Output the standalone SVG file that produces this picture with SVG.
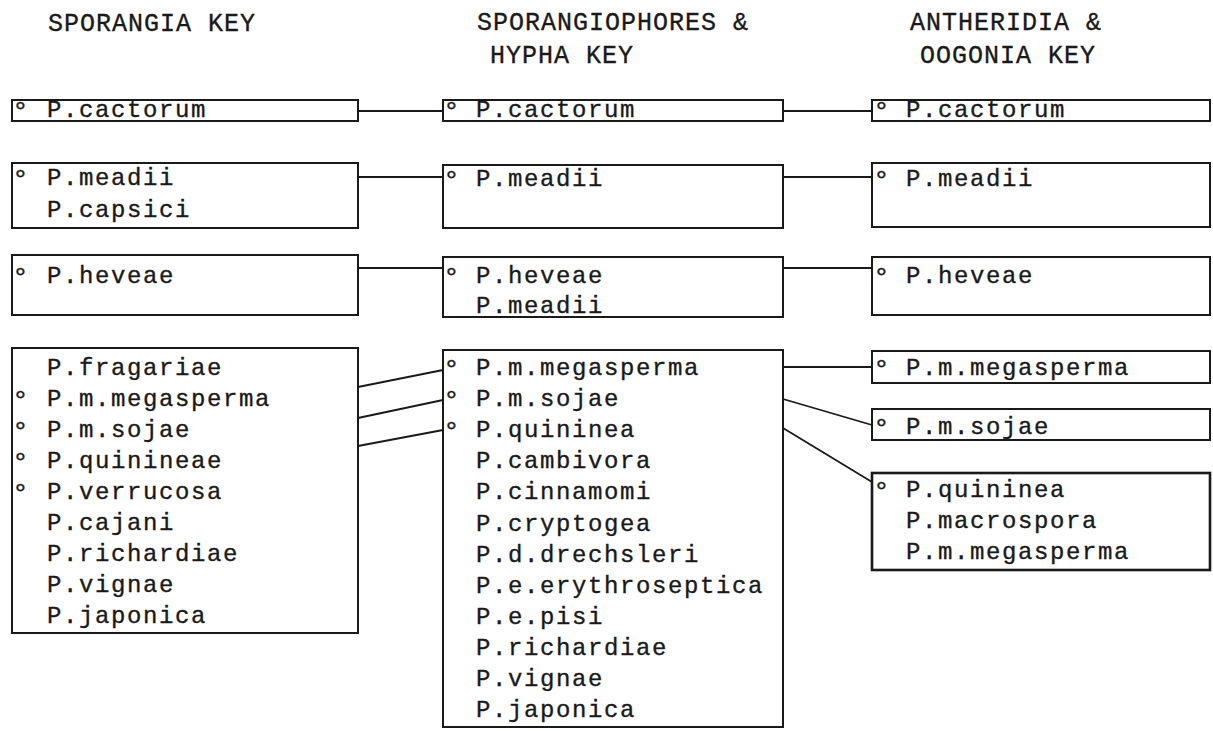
<svg xmlns="http://www.w3.org/2000/svg" width="1213" height="731" viewBox="0 0 1213 731">
<style>
.bg{fill:#fff}
.box{fill:#fff;stroke:#1a1a1a;stroke-width:2}
.thick{stroke-width:2.6}
.t{font-family:"Liberation Mono","DejaVu Sans Mono",monospace;font-size:24px;letter-spacing:1.6px;fill:#1a1a1a;stroke:#1a1a1a;stroke-width:0.35}
.h{font-family:"Liberation Mono","DejaVu Sans Mono",monospace;font-size:25px;letter-spacing:1px;fill:#1a1a1a;stroke:#1a1a1a;stroke-width:0.35}
.d{font-size:28px}
.c{fill:none;stroke:#1a1a1a;stroke-width:1.8}
</style>
<rect class="bg" x="0" y="0" width="1213" height="731"/>
<g id="headers">
<text class="h" x="48" y="31">SPORANGIA KEY</text>
<text class="h" x="477" y="30">SPORANGIOPHORES &amp;</text>
<text class="h" x="490" y="63">HYPHA KEY</text>
<text class="h" x="910" y="30">ANTHERIDIA &amp;</text>
<text class="h" x="920" y="63">OOGONIA KEY</text>
</g>
<g id="connectors">
<line class="c" x1="358" y1="111" x2="443" y2="111"/>
<line class="c" x1="783" y1="111" x2="872" y2="111"/>
<line class="c" x1="358" y1="177" x2="443" y2="177"/>
<line class="c" x1="783" y1="177" x2="872" y2="177"/>
<line class="c" x1="358" y1="268" x2="443" y2="268"/>
<line class="c" x1="783" y1="268" x2="872" y2="268"/>
<line class="c" x1="358" y1="387" x2="443" y2="370"/>
<line class="c" x1="358" y1="418" x2="443" y2="400"/>
<line class="c" x1="358" y1="446" x2="443" y2="430"/>
<line class="c" x1="783" y1="367" x2="872" y2="367"/>
<line class="c" x1="783" y1="399" x2="872" y2="425"/>
<line class="c" x1="783" y1="428" x2="872" y2="482"/>
</g>
<g id="s1">
<rect class="box" x="12" y="100" width="346" height="21"/>
<text class="t" y="117"><tspan class="d" x="12" y="120">°</tspan><tspan x="47" y="117">P.cactorum</tspan></text>
</g>
<g id="s2">
<rect class="box" x="12" y="163" width="346" height="65"/>
<text class="t" y="185"><tspan class="d" x="12" y="188">°</tspan><tspan x="47" y="185">P.meadii</tspan></text>
<text class="t" x="47" y="217">P.capsici</text>
</g>
<g id="s3">
<rect class="box" x="12" y="255" width="346" height="60"/>
<text class="t" y="283"><tspan class="d" x="12" y="286">°</tspan><tspan x="47" y="283">P.heveae</tspan></text>
</g>
<g id="s4">
<rect class="box" x="12" y="348" width="346" height="285"/>
<text class="t" x="47" y="375">P.fragariae</text>
<text class="t" y="406"><tspan class="d" x="12" y="409">°</tspan><tspan x="47" y="406">P.m.megasperma</tspan></text>
<text class="t" y="437"><tspan class="d" x="12" y="440">°</tspan><tspan x="47" y="437">P.m.sojae</tspan></text>
<text class="t" y="468"><tspan class="d" x="12" y="471">°</tspan><tspan x="47" y="468">P.quinineae</tspan></text>
<text class="t" y="499"><tspan class="d" x="12" y="502">°</tspan><tspan x="47" y="499">P.verrucosa</tspan></text>
<text class="t" x="47" y="530">P.cajani</text>
<text class="t" x="47" y="561">P.richardiae</text>
<text class="t" x="47" y="592">P.vignae</text>
<text class="t" x="47" y="623">P.japonica</text>
</g>
<g id="h1">
<rect class="box" x="443" y="100" width="340" height="21"/>
<text class="t" y="117"><tspan class="d" x="443" y="120">°</tspan><tspan x="476" y="117">P.cactorum</tspan></text>
</g>
<g id="h2">
<rect class="box" x="443" y="165" width="340" height="63"/>
<text class="t" y="186"><tspan class="d" x="443" y="189">°</tspan><tspan x="476" y="186">P.meadii</tspan></text>
</g>
<g id="h3">
<rect class="box" x="443" y="257" width="340" height="60"/>
<text class="t" y="283"><tspan class="d" x="443" y="286">°</tspan><tspan x="476" y="283">P.heveae</tspan></text>
<text class="t" x="476" y="313">P.meadii</text>
</g>
<g id="h4">
<rect class="box" x="443" y="350" width="340" height="377"/>
<text class="t" y="375"><tspan class="d" x="443" y="378">°</tspan><tspan x="476" y="375">P.m.megasperma</tspan></text>
<text class="t" y="406"><tspan class="d" x="443" y="409">°</tspan><tspan x="476" y="406">P.m.sojae</tspan></text>
<text class="t" y="437"><tspan class="d" x="443" y="440">°</tspan><tspan x="476" y="437">P.quininea</tspan></text>
<text class="t" x="476" y="468">P.cambivora</text>
<text class="t" x="476" y="499">P.cinnamomi</text>
<text class="t" x="476" y="531">P.cryptogea</text>
<text class="t" x="476" y="562">P.d.drechsleri</text>
<text class="t" x="476" y="593">P.e.erythroseptica</text>
<text class="t" x="476" y="624">P.e.pisi</text>
<text class="t" x="476" y="655">P.richardiae</text>
<text class="t" x="476" y="686">P.vignae</text>
<text class="t" x="476" y="717">P.japonica</text>
</g>
<g id="a1">
<rect class="box" x="872" y="100" width="338" height="21"/>
<text class="t" y="117"><tspan class="d" x="873" y="120">°</tspan><tspan x="906" y="117">P.cactorum</tspan></text>
</g>
<g id="a2">
<rect class="box" x="872" y="163" width="338" height="64"/>
<text class="t" y="186"><tspan class="d" x="873" y="189">°</tspan><tspan x="906" y="186">P.meadii</tspan></text>
</g>
<g id="a3">
<rect class="box" x="872" y="257" width="338" height="58"/>
<text class="t" y="283"><tspan class="d" x="873" y="286">°</tspan><tspan x="906" y="283">P.heveae</tspan></text>
</g>
<g id="a4">
<rect class="box" x="872" y="351" width="338" height="32"/>
<text class="t" y="375"><tspan class="d" x="873" y="378">°</tspan><tspan x="906" y="375">P.m.megasperma</tspan></text>
</g>
<g id="a5">
<rect class="box" x="872" y="409" width="338" height="31"/>
<text class="t" y="434"><tspan class="d" x="873" y="437">°</tspan><tspan x="906" y="434">P.m.sojae</tspan></text>
</g>
<g id="a6">
<rect class="box thick" x="872" y="473" width="338" height="97"/>
<text class="t" y="497"><tspan class="d" x="873" y="500">°</tspan><tspan x="906" y="497">P.quininea</tspan></text>
<text class="t" x="906" y="528">P.macrospora</text>
<text class="t" x="906" y="559">P.m.megasperma</text>
</g>
</svg>
